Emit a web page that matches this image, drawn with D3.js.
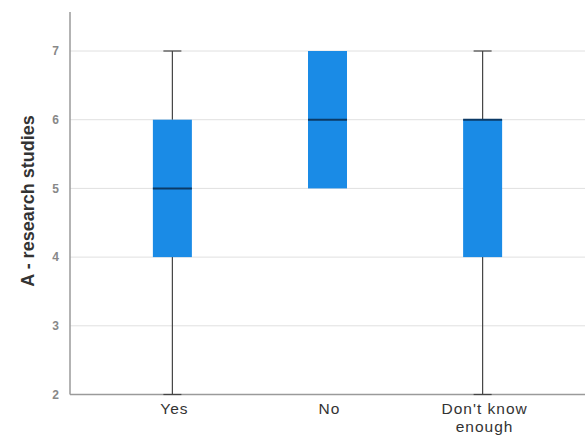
<!DOCTYPE html>
<html><head><meta charset="utf-8">
<script src="https://cdn.jsdelivr.net/npm/d3@7"></script>
<style>body{margin:0;background:#fff;} svg{display:block;}</style>
</head><body>
<svg id="c" width="585" height="439"></svg>
<script>
const categories = ["Yes", "No", "Don't know enough"];
const whiskerLow  = [2, 5, 2];
const q1          = [4, 5, 4];
const median      = [5, 6, 6];
const q3          = [6, 7, 6];
const whiskerHigh = [7, 7, 7];
const yTicks = [2, 3, 4, 5, 6, 7];
const yTitle = "A - research studies";

const svg = d3.select("#c");
const mLeft = 70, mRight = 585, mTop = 12, mBottom = 394.5;
const font = "Arial, 'Liberation Sans', sans-serif";

const y = d3.scaleLinear().domain([2, 7]).range([mBottom, 51]);
const x = d3.scaleBand().domain(categories).range([mLeft, mRight]).paddingInner(0).paddingOuter(0.16);

// gridlines
svg.append("g").selectAll("line").data(yTicks.filter(t => t > 2)).join("line")
  .attr("x1", mLeft).attr("x2", mRight)
  .attr("y1", d => y(d)).attr("y2", d => y(d))
  .attr("stroke", "#e0e0e0").attr("stroke-width", 1);

// y axis
const yAxis = d3.axisLeft(y).tickValues(yTicks).tickSize(0).tickPadding(11).tickFormat(d3.format("d"));
const gy = svg.append("g").attr("transform", `translate(${mLeft},0)`).call(yAxis);
gy.select(".domain").remove();
gy.selectAll("text").attr("font-family", font)
  .attr("font-size", 12).attr("font-weight", "bold").attr("fill", "#888");
svg.append("line").attr("x1", mLeft).attr("x2", mLeft).attr("y1", mTop).attr("y2", mBottom)
  .attr("stroke", "#9a9a9a").attr("stroke-width", 1.5);

// x axis
const xAxis = d3.axisBottom(x).tickSize(0).tickPadding(0);
const gx = svg.append("g").attr("transform", `translate(0,${mBottom})`).call(xAxis);
gx.select(".domain").remove();
gx.selectAll("text").remove();
svg.append("line").attr("x1", mLeft).attr("x2", mRight).attr("y1", mBottom).attr("y2", mBottom)
  .attr("stroke", "#9a9a9a").attr("stroke-width", 1.5);

// category labels (wrapped, one text per line)
const labelLines = {"Yes": ["Yes"], "No": ["No"], "Don't know enough": ["Don't know", "enough"]};
categories.forEach(c => {
  const cx = x(c) + x.bandwidth() / 2 + 2;
  labelLines[c].forEach((l, i) => svg.append("text")
    .attr("x", cx).attr("y", 414 + i * 17.5)
    .attr("text-anchor", "middle")
    .attr("font-family", font)
    .attr("font-size", 15.5).attr("letter-spacing", 1).attr("fill", "#333").text(l));
});

// y title
svg.append("text").attr("transform", `translate(34,201) rotate(-90)`)
  .attr("text-anchor", "middle")
  .attr("font-family", font)
  .attr("font-size", 18).attr("font-weight", "bold").attr("fill", "#333").text(yTitle);

const boxW = 39, capW = 18;
const g = svg.append("g");
categories.forEach((c, i) => {
  const cx = x(c) + x.bandwidth() / 2;
  if (whiskerHigh[i] > q3[i]) {
    g.append("line").attr("x1", cx).attr("x2", cx).attr("y1", y(q3[i])).attr("y2", y(whiskerHigh[i]))
      .attr("stroke", "#444").attr("stroke-width", 1.2);
    g.append("line").attr("x1", cx - capW / 2).attr("x2", cx + capW / 2).attr("y1", y(whiskerHigh[i])).attr("y2", y(whiskerHigh[i]))
      .attr("stroke", "#444").attr("stroke-width", 1.2);
  }
  if (whiskerLow[i] < q1[i]) {
    g.append("line").attr("x1", cx).attr("x2", cx).attr("y1", y(q1[i])).attr("y2", y(whiskerLow[i]))
      .attr("stroke", "#444").attr("stroke-width", 1.2);
    g.append("line").attr("x1", cx - capW / 2).attr("x2", cx + capW / 2).attr("y1", y(whiskerLow[i])).attr("y2", y(whiskerLow[i]))
      .attr("stroke", "#444").attr("stroke-width", 1.2);
  }
  g.append("rect").attr("x", cx - boxW / 2).attr("width", boxW)
    .attr("y", y(q3[i])).attr("height", y(q1[i]) - y(q3[i]))
    .attr("fill", "#1a8be6");
  g.append("line").attr("x1", cx - boxW / 2).attr("x2", cx + boxW / 2)
    .attr("y1", y(median[i])).attr("y2", y(median[i]))
    .attr("stroke", "#0b3a66").attr("stroke-width", 2);
});
</script>
</body></html>
